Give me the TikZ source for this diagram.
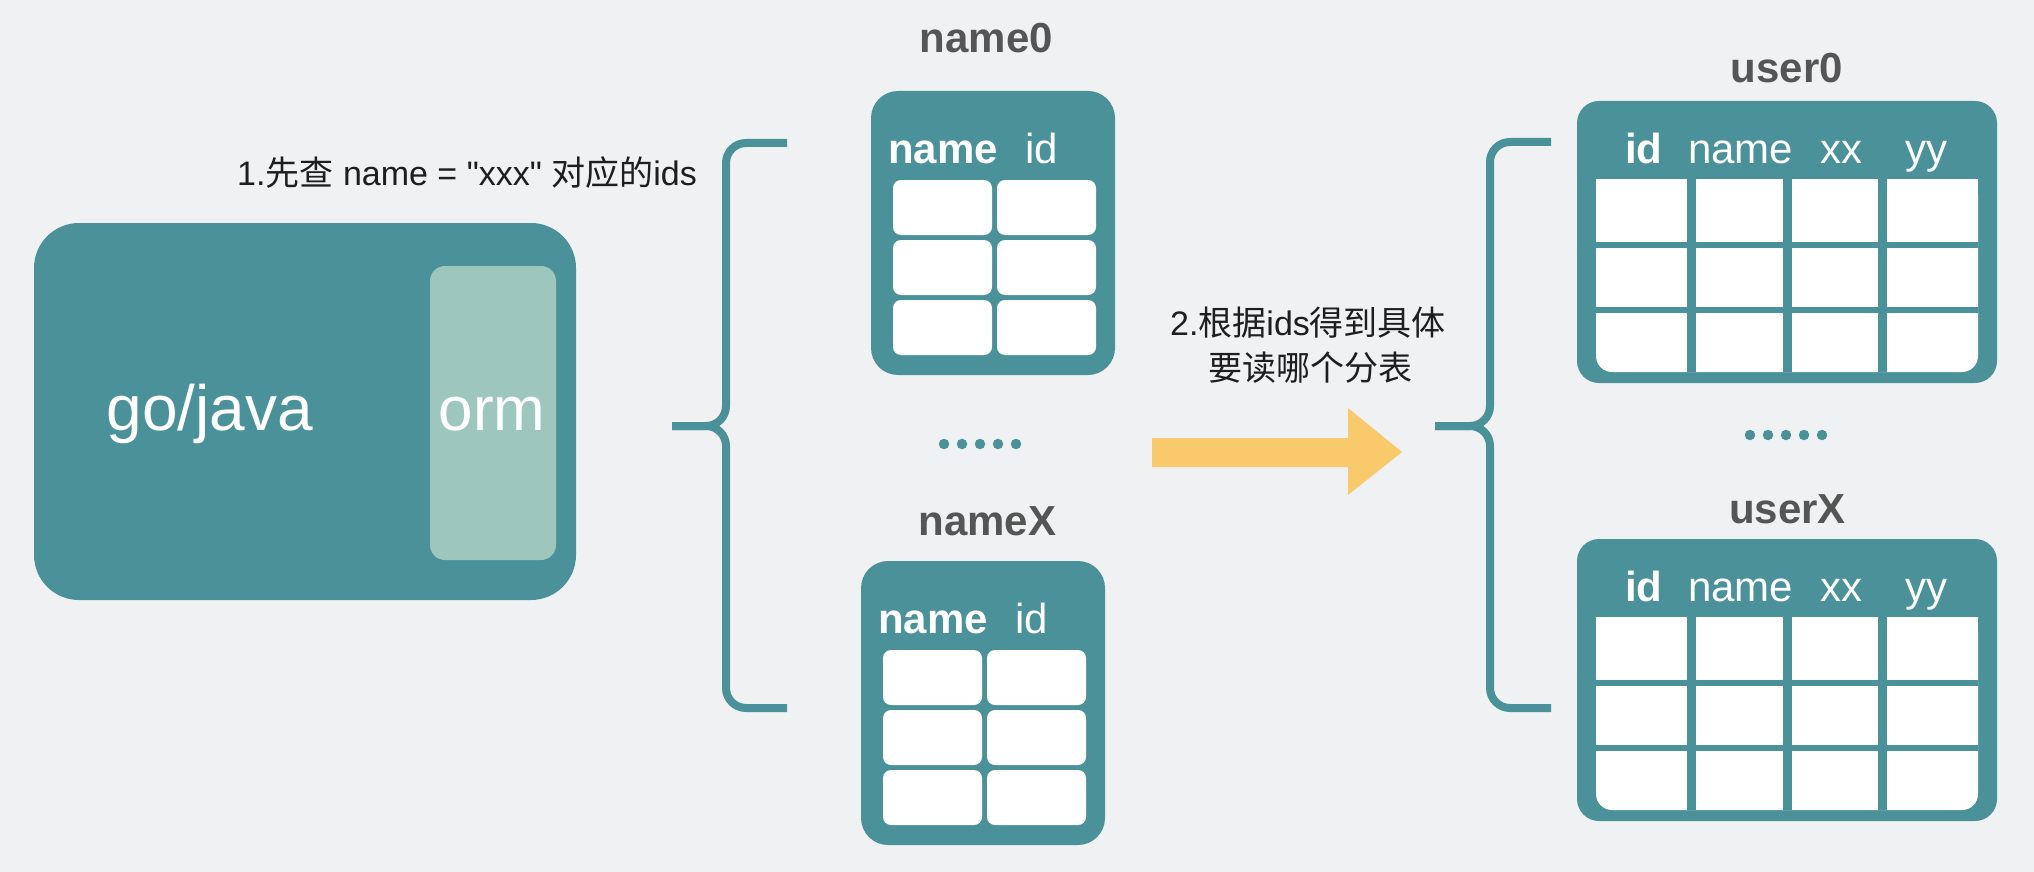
\documentclass[tikz,border=0pt]{standalone}
\usepackage{fontspec}
\setmainfont{Liberation Sans}
\newfontfamily\lat{Liberation Sans}
\newfontfamily\cjk{Noto Sans CJK SC}
\definecolor{teal1}{HTML}{4A9199}
\definecolor{ormc}{HTML}{9DC7BD}
\definecolor{bgc}{HTML}{F0F1F3}
\definecolor{lblc}{HTML}{555555}
\definecolor{arrc}{HTML}{F8CA6C}
\definecolor{txtc}{HTML}{1E1E1E}
\tikzset{
  tbl/.style={fill=teal1, rounded corners=27pt},
  utbl/.style={fill=teal1, rounded corners=22pt},
  cell/.style={fill=white, rounded corners=8pt},
  brace/.style={draw=teal1, line width=8pt, rounded corners=20pt},
  lbl/.style={font=\fontsize{42}{50}\selectfont\bfseries, text=lblc, inner sep=0pt, anchor=base},
  hdb/.style={font=\fontsize{42}{50}\selectfont\bfseries, text=white, inner sep=0pt, anchor=base west},
  hdr/.style={font=\fontsize{42}{50}\selectfont, text=white, inner sep=0pt, anchor=base west},
  note/.style={font=\lat\fontsize{34}{45}\selectfont, text=txtc, inner sep=0pt},
  big/.style={text=white, inner sep=0pt, anchor=base},
  dotc/.style={fill=teal1, circle, inner sep=0pt, minimum size=10.5pt},
}
\newcommand\NameTbl[3]{%
  \begin{scope}[shift={(#2,#3)}]
    \fill[tbl] (871,91) rectangle (1115,375);
    \node[hdb] (#1h1) at (888,163) {name};
    \node[hdr] (#1h2) at (1025,163) {id};
    \foreach \yy in {180,240,300} {
      \fill[cell] (893,\yy) rectangle (992,\yy+55);
      \fill[cell] (997,\yy) rectangle (1096,\yy+55);
    }
  \end{scope}}
\newcommand\UserTbl[2]{%
  \begin{scope}[shift={(0,#2)}]
    \fill[utbl] (1577,101) rectangle (1997,383);
    \node[hdb] (#1h1) at (1625,163) {id};
    \node[hdr] (#1h2) at (1688,163) {name};
    \node[hdr] (#1h3) at (1820,163) {xx};
    \node[hdr] (#1h4) at (1905,163) {yy};
    \fill[white, rounded corners=16pt] (1596,179) rectangle (1978,372);
    \fill[white] (1596,179) rectangle (1978,320);
    \foreach \xx in {1687,1783,1878} {
      \fill[teal1] (\xx,179) rectangle (\xx+9,372);
    }
    \foreach \yy in {242,307} {
      \fill[teal1] (1596,\yy) rectangle (1978,\yy+6);
    }
  \end{scope}}
\begin{document}
\begin{tikzpicture}[x=1pt,y=-1pt]
  \useasboundingbox (0,0) rectangle (2034,872);
  \fill[bgc] (0,0) rectangle (2034,872);

  % application box
  \fill[teal1, rounded corners=45pt] (34,223) rectangle (576,600);
  \fill[ormc, rounded corners=15pt] (430,266) rectangle (556,560);
  \node[big, font=\fontsize{64}{70}\selectfont] (app) at (210,430) {go/java};
  \node[big, font=\fontsize{62}{70}\selectfont] (orm) at (492,430) {orm};

  % step 1 note
  \node[note, anchor=base west] (step1) at (237,185) {1.{\cjk 先查} name = "xxx" {\cjk 对应的}ids};

  % left brace
  \coordinate (lbT) at (787,143);
  \coordinate (lbB) at (787,708);
  \coordinate (lbM) at (726,426);
  \coordinate (lbTip) at (672,426);
  \draw[brace] (lbT) -- (726,143) -- (lbM) -- (lbTip);
  \draw[brace] (lbB) -- (726,708) -- (lbM) -- (lbTip);

  % name tables
  \node[lbl] (name0) at (986.5,53) {name0};
  \NameTbl{nz}{0}{0}
  \foreach \i in {0,...,4} { \node[dotc] (nd\i) at (944+18*\i,444) {}; }
  \node[lbl] (nameX) at (987.5,535) {nameX};
  \NameTbl{nx}{-10}{470}

  % step 2 note and arrow
  \node[note, anchor=base] (step2a) at (1308,335) {2.{\cjk 根据}ids{\cjk 得到具体}};
  \node[note, anchor=base] (step2b) at (1310,380) {\cjk 要读哪个分表};
  \fill[arrc] (1152,438) -- (1348,438) -- (1348,408) -- (1402,452) -- (1348,495) -- (1348,467) -- (1152,467) -- cycle;

  % right brace
  \coordinate (rbT) at (1551,142);
  \coordinate (rbB) at (1551,708);
  \coordinate (rbM) at (1490,426);
  \coordinate (rbTip) at (1435,426);
  \draw[brace] (rbT) -- (1490,142) -- (rbM) -- (rbTip);
  \draw[brace] (rbB) -- (1490,708) -- (rbM) -- (rbTip);

  % user tables
  \node[lbl] (user0) at (1787,83) {user0};
  \UserTbl{uz}{0}
  \foreach \i in {0,...,4} { \node[dotc] (ud\i) at (1750+18*\i,435) {}; }
  \node[lbl] (userX) at (1787.5,523) {userX};
  \UserTbl{ux}{438}
\end{tikzpicture}
\end{document}
